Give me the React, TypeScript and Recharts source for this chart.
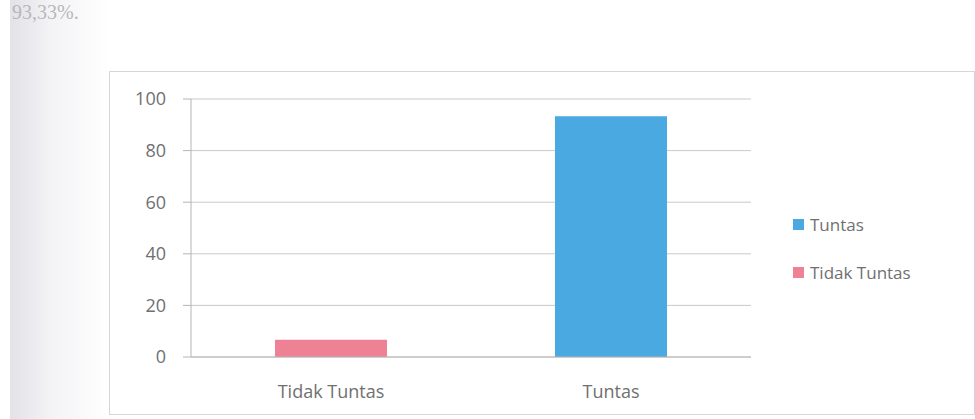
import { Bar, BarChart, CartesianGrid, XAxis, YAxis } from "recharts";

const categories = ["Tidak Tuntas", "Tuntas"];
const tuntasValues = [0, 93.33];
const tidakTuntasValues = [6.67, 0];
const yTicks = [0, 20, 40, 60, 80, 100];

const BLUE = "#4ba9e1";
const PINK = "#ef8195";
const TEXT = "#707070";
const FONT = "'Open Sans', sans-serif";

const data = categories.map((name, i) => ({
  name,
  tuntas: tuntasValues[i],
  tidakTuntas: tidakTuntasValues[i],
}));

const legendItems = [
  { label: "Tuntas", color: BLUE },
  { label: "Tidak Tuntas", color: PINK },
];

function ChartLegend() {
  return (
    <div
      style={{
        position: "absolute",
        left: 793,
        top: 200,
        fontFamily: FONT,
        fontSize: 17,
        color: TEXT,
      }}
    >
      {legendItems.map((it) => (
        <div
          key={it.label}
          style={{ display: "flex", alignItems: "center", height: 48 }}
        >
          <span
            style={{
              width: 11,
              height: 11,
              background: it.color,
              marginRight: 6,
              display: "inline-block",
            }}
          />
          {it.label}
        </div>
      ))}
    </div>
  );
}

export default function App() {
  return (
    <div
      style={{
        position: "absolute",
        left: 0,
        top: 0,
        width: 975,
        height: 419,
        background: "#fff",
        overflow: "hidden",
      }}
    >
      {/* scanner shadow on the left */}
      <div
        style={{
          position: "absolute",
          left: 10,
          top: 0,
          width: 100,
          height: 419,
          background: "linear-gradient(to right, #e2e2e7, #f3f3f6 40%, #fff)",
        }}
      />
      <div
        style={{
          position: "absolute",
          left: 12,
          top: 2,
          fontFamily: "'Liberation Serif', serif",
          fontSize: 20,
          color: "#b8b8b8",
          lineHeight: "20px",
        }}
      >
        93,33%.
      </div>
      <div
        style={{
          position: "absolute",
          left: 109,
          top: 71,
          width: 864,
          height: 342,
          border: "1px solid #d6d6d6",
          background: "#fff",
        }}
      />
      <div style={{ position: "absolute", left: 0, top: 0 }}>
        <BarChart
          width={975}
          height={419}
          data={data}
          margin={{ top: 99, right: 224, bottom: 32, left: 131 }}
          barCategoryGap="30%"
        >
          <CartesianGrid vertical={false} stroke="#c9c9c9" />
          <XAxis
            dataKey="name"
            tickLine={false}
            axisLine={{ stroke: "#b5b5b5" }}
            tick={{ fontSize: 18, fill: TEXT, fontFamily: FONT }}
            tickMargin={22}
            height={30}
          />
          <YAxis
            domain={[0, 100]}
            ticks={yTicks}
            width={60}
            tickSize={8}
            tickMargin={17}
            tickLine={{ stroke: "#b5b5b5" }}
            axisLine={{ stroke: "#b5b5b5" }}
            tick={{ fontSize: 18, fill: TEXT, fontFamily: FONT }}
          />
          <Bar
            dataKey="tuntas"
            name="Tuntas"
            stackId="a"
            fill={BLUE}
            isAnimationActive={false}
          />
          <Bar
            dataKey="tidakTuntas"
            name="Tidak Tuntas"
            stackId="a"
            fill={PINK}
            isAnimationActive={false}
          />
        </BarChart>
      </div>
      <ChartLegend />
    </div>
  );
}
